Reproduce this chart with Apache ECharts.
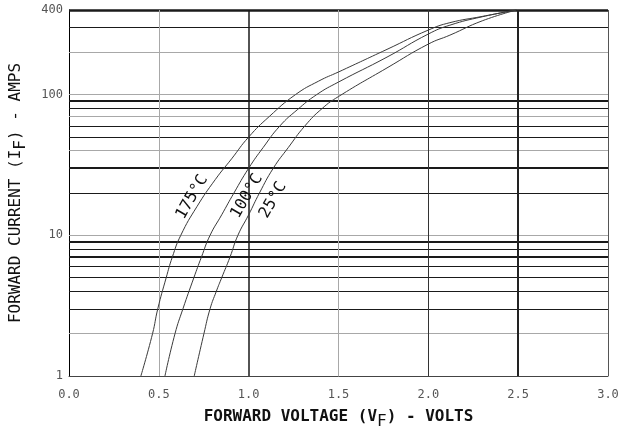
<!DOCTYPE html>
<html><head><meta charset="utf-8">
<script src="https://cdn.jsdelivr.net/npm/echarts@6/dist/echarts.min.js"></script>
<style>html,body{margin:0;padding:0;background:#fff}#c{width:622px;height:427px}</style>
</head><body><div id="c"></div>
<script>
// ---- data ----
const xGridValues = [0.5, 1.0, 1.5, 2.0, 2.5, 3.0];
const yGridValues = [2,3,4,5,6,7,8,9,10,20,30,40,50,60,70,80,90,100,200,300,400];
const curveNames = ['175°C', '100°C', '25°C'];
const curve175 = [[0.40,1],[0.465,2],[0.494,3],[0.541,5],[0.575,7],[0.622,10],[0.712,16],[0.815,25],[0.905,35],[1.0,50],[1.115,70],[1.26,100],[1.39,125],[1.5,145],[1.77,210],[2.0,288],[2.12,325],[2.3,360],[2.49,400]];
const curve100 = [[0.534,1],[0.59,2],[0.634,3],[0.695,5],[0.737,7],[0.785,10],[0.85,14],[0.918,20],[1.0,30],[1.08,42],[1.174,60],[1.27,78],[1.378,100],[1.5,123],[1.77,185],[2.0,270],[2.12,312],[2.3,358],[2.49,400]];
const curve25  = [[0.697,1],[0.751,2],[0.785,3],[0.82,4],[0.85,5],[0.896,7],[0.94,10],[1.0,14],[1.06,20],[1.137,30],[1.22,42],[1.313,60],[1.41,80],[1.5,97],[1.77,155],[2.0,229],[2.12,265],[2.3,335],[2.49,400]];
const labelAt175 = [0.685, 18.7];
const labelAt100 = [0.99, 19];
const labelAt25  = [1.136, 17.8];

// ---- styles ----
const GRAY = '#a8a8a8', BLK = '#1a1a1a';
const yGridStyle = {2:[GRAY,1],3:[BLK,1],4:[BLK,1],5:[BLK,1],6:[BLK,1],7:[BLK,2],8:[BLK,1],9:[BLK,2],10:[GRAY,1],
  20:[BLK,1],30:[BLK,2],40:[GRAY,1],50:[BLK,1],60:[BLK,1],70:[GRAY,1],80:[BLK,1],90:[BLK,2],100:[GRAY,1],
  200:[GRAY,1],300:[BLK,1],400:[BLK,2.5]};
const xGridStyle = {0.5:[GRAY,1],1:[BLK,1.5],1.5:[GRAY,1],2:['#333',1],2.5:['#222',2],3:['#555',1]};

const MONO = '"DejaVu Sans Mono", monospace';
const chart = echarts.init(document.getElementById('c'), null, {renderer: 'canvas'});

const gridLines = [];
yGridValues.forEach(v => gridLines.push({yAxis: v, lineStyle: {color: yGridStyle[v][0], width: yGridStyle[v][1], type: 'solid'}}));
xGridValues.forEach(v => gridLines.push({xAxis: v, lineStyle: {color: xGridStyle[v][0], width: xGridStyle[v][1], type: 'solid'}}));

function curveSeries(name, data, at) {
  return {
    name, type: 'line', data, showSymbol: false, smooth: 0.5, z: 5,
    lineStyle: {color: '#3a3a3a', width: 1},
    markPoint: {
      symbol: 'circle', symbolSize: 0, silent: true, animation: false,
      data: [{coord: at, value: name}],
      label: {show: true, formatter: name, rotate: 60, position: 'inside',
        fontFamily: MONO, fontSize: 16, color: '#111'}
    }
  };
}

chart.setOption({
  animation: false,
  grid: {left: 69, right: 14, top: 10, bottom: 51, containLabel: false, outerBoundsMode: 'none'},
  xAxis: {
    type: 'value', min: 0, max: 3, interval: 0.5,
    axisLine: {show: true, lineStyle: {color: '#444', width: 1}},
    axisTick: {show: false},
    splitLine: {show: false},
    axisLabel: {formatter: v => v.toFixed(1), fontFamily: MONO, fontSize: 12, color: '#555', margin: 13},
    name: '{n|FORWARD VOLTAGE (V}{s|F}{n|) - VOLTS}',
    nameLocation: 'middle', nameGap: 28,
    nameTextStyle: {rich: {
      n: {fontFamily: MONO, fontSize: 16, fontWeight: 'bold', color: '#111'},
      s: {fontFamily: MONO, fontSize: 16, color: '#111', padding: [10,0,0,0]}
    }}
  },
  yAxis: {
    type: 'log', logBase: 10, min: 1, max: 400,
    axisLine: {show: true, lineStyle: {color: '#000', width: 1}},
    axisTick: {show: false},
    splitLine: {show: false},
    minorSplitLine: {show: false},
    axisLabel: {fontFamily: MONO, fontSize: 12, color: '#555', margin: 6},
    name: '{n|FORWARD CURRENT (I}{s|F}{n|) - AMPS}',
    nameLocation: 'middle', nameGap: 40, nameRotate: 90,
    nameTextStyle: {rich: {
      n: {fontFamily: MONO, fontSize: 16, color: '#111'},
      s: {fontFamily: MONO, fontSize: 16, color: '#111', padding: [10,0,0,0]}
    }}
  },
  series: [
    {name: 'grid', type: 'line', data: [], z: 1,
     markLine: {silent: true, symbol: ['none','none'], animation: false, label: {show: false}, data: gridLines}},
    curveSeries(curveNames[0], curve175, labelAt175),
    curveSeries(curveNames[1], curve100, labelAt100),
    curveSeries(curveNames[2], curve25, labelAt25)
  ]
});
</script></body></html>
